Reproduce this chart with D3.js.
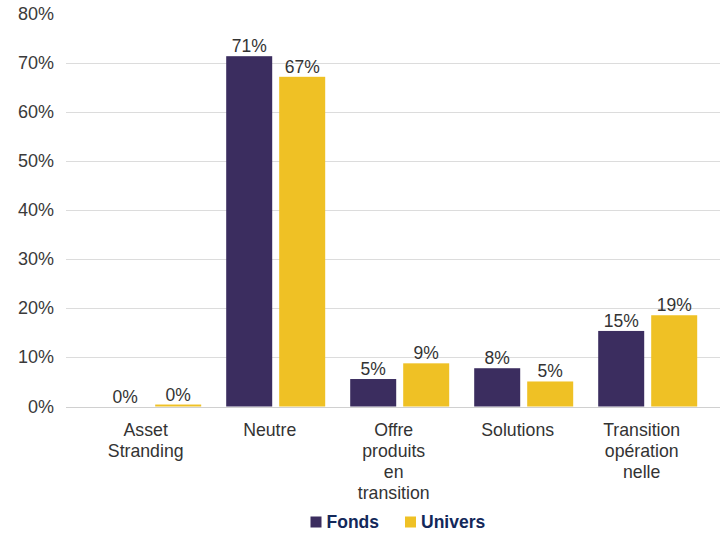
<!DOCTYPE html>
<html>
<head>
<meta charset="utf-8">
<script src="https://cdn.jsdelivr.net/npm/d3@7"></script>
<style>
  body { margin: 0; background: #fff; }
  svg text { font-family: "Liberation Sans", Arial, sans-serif; }
</style>
</head>
<body>
<div id="chart"></div>
<script>
var W = 726, H = 535;

// data
var categories = ["Asset Stranding", "Neutre", "Offre produits en transition", "Solutions", "Transition opération nelle"];
var catLines = [["Asset", "Stranding"], ["Neutre"], ["Offre", "produits", "en", "transition"], ["Solutions"], ["Transition", "opération", "nelle"]];
var seriesNames = ["Fonds", "Univers"];
var fonds = [0, 0.714, 0.056, 0.078, 0.154];
var univers = [0.004, 0.672, 0.088, 0.051, 0.186];
var fondsLabels = ["0%", "71%", "5%", "8%", "15%"];
var universLabels = ["0%", "67%", "9%", "5%", "19%"];
var yTicks = [0, 0.1, 0.2, 0.3, 0.4, 0.5, 0.6, 0.7, 0.8];

var colors = { "Fonds": "#3b2d5f", "Univers": "#efc125" };

var svg = d3.select("#chart").append("svg")
    .attr("width", W)
    .attr("height", H);

var y = d3.scaleLinear().domain([0, 0.8]).range([406.5, 14]);

var x0 = d3.scaleBand().domain(categories).range([89.7, 709.7]).padding(0);
var x1 = d3.scaleBand().domain(seriesNames).range([12.5, 111.5]).paddingInner(0.132).paddingOuter(0);

// gridlines (no line at 80%)
svg.selectAll(".grid")
    .data(yTicks.filter(function(t){ return t < 0.8; }))
    .enter().append("line")
    .attr("class", "grid")
    .attr("x1", 66).attr("x2", 720)
    .attr("y1", function(d){ return Math.round(y(d)) + 0.5; })
    .attr("y2", function(d){ return Math.round(y(d)) + 0.5; })
    .attr("stroke", function(d){ return d === 0 ? "#d0d0d0" : "#dcdcdc"; })
    .attr("stroke-width", 1);

// y tick labels
svg.selectAll(".ylab")
    .data(yTicks)
    .enter().append("text")
    .attr("class", "ylab")
    .attr("x", 54)
    .attr("y", function(d){ return y(d) + 6; })
    .attr("text-anchor", "end")
    .style("font-size", "18px")
    .attr("fill", "#3a3a3a")
    .text(function(d){ return Math.round(d * 100) + "%"; });

var rows = categories.map(function(c, i){
    return { cat: c, vals: [
        { s: "Fonds", v: fonds[i], lab: fondsLabels[i] },
        { s: "Univers", v: univers[i], lab: universLabels[i] }
    ]};
});

var groups = svg.selectAll(".grp")
    .data(rows)
    .enter().append("g")
    .attr("class", "grp")
    .attr("transform", function(d){ return "translate(" + x0(d.cat) + ",0)"; });

groups.selectAll("rect")
    .data(function(d){ return d.vals; })
    .enter().append("rect")
    .attr("x", function(d){ return x1(d.s); })
    .attr("width", x1.bandwidth())
    .attr("y", function(d){ return y(d.v); })
    .attr("height", function(d){ return y(0) - y(d.v); })
    .attr("fill", function(d){ return colors[d.s]; });

groups.selectAll(".vlab")
    .data(function(d){ return d.vals; })
    .enter().append("text")
    .attr("class", "vlab")
    .attr("x", function(d){ return x1(d.s) + x1.bandwidth() / 2; })
    .attr("y", function(d){ return y(d.v) - 4; })
    .attr("text-anchor", "middle")
    .style("font-size", "17.5px")
    .attr("fill", "#333")
    .text(function(d){ return d.lab; });

// category labels
groups.each(function(d, i){
    var t = d3.select(this).append("text")
        .attr("text-anchor", "middle")
        .style("font-size", "17.7px")
        .attr("fill", "#333");
    catLines[i].forEach(function(line, k){
        t.append("tspan")
            .attr("x", x0.bandwidth() / 2 - 6)
            .attr("y", 435.5 + k * 21)
            .text(line);
    });
});

// legend
var legend = svg.append("g");
var legendX = [310.5, 405];
seriesNames.forEach(function(s, i){
    legend.append("rect")
        .attr("x", legendX[i]).attr("y", 516.5)
        .attr("width", 11).attr("height", 11)
        .attr("fill", colors[s]);
    legend.append("text")
        .attr("x", legendX[i] + 16)
        .attr("y", 528)
        .style("font-size", "17.5px")
        .style("font-weight", "bold")
        .attr("fill", "#13285a")
        .text(s);
});
</script>
</body>
</html>
